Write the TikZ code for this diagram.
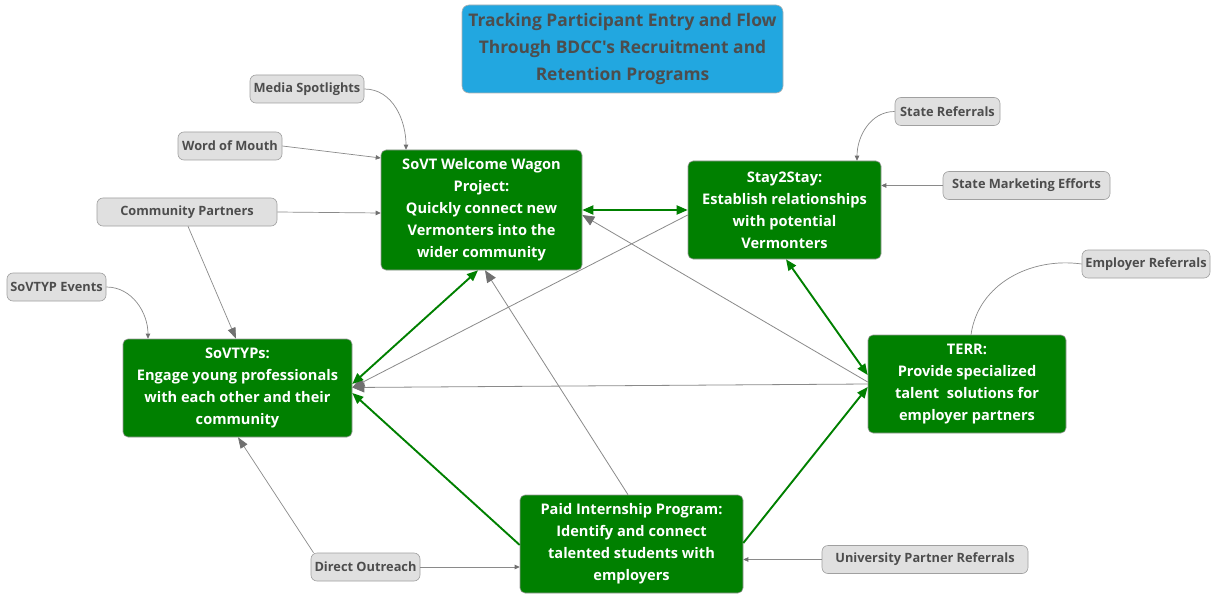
\documentclass[tikz,border=0pt]{standalone}
\usepackage{fontspec}
\setmainfont{Open Sans}[Ligatures=TeXOff]
\usetikzlibrary{arrows.meta}
\definecolor{boxgreen}{HTML}{008000}
\definecolor{titleblue}{HTML}{22A7E0}
\definecolor{srcfill}{HTML}{E0E0E0}
\definecolor{srcline}{HTML}{A0A0A0}
\definecolor{txtgray}{HTML}{4D4D4D}
\definecolor{lnk}{HTML}{8A8A8A}
\definecolor{tipgray}{HTML}{707070}
\tikzset{
  prog/.style={draw=gray!80, line width=0.6pt, fill=boxgreen, rounded corners=5pt,
    text=white, font=\fontsize{14.6}{22}\selectfont\bfseries, align=center, inner sep=0pt},
  src/.style={draw=srcline, line width=0.6pt, fill=srcfill, rounded corners=6pt,
    text=txtgray, font=\fontsize{12.8}{14}\selectfont\bfseries, align=center, inner sep=0pt,
    minimum height=28pt},
  titlebox/.style={draw=gray!60, line width=0.6pt, fill=titleblue, rounded corners=7pt,
    text=txtgray, font=\fontsize{17.4}{27}\selectfont\bfseries, align=center, inner sep=0pt},
  ext/.style={draw=lnk, line width=0.7pt, -{Triangle[length=5pt,width=4.5pt,color=tipgray]}},
  extbig/.style={draw=lnk, line width=0.7pt, -{Triangle[length=11pt,width=8pt,color=tipgray]}},
  extnone/.style={draw=lnk, line width=0.7pt},
  flowgray/.style={draw=lnk, line width=0.8pt, -{Triangle[length=12pt,width=10pt,color=tipgray]}},
  flowgreen/.style={draw=boxgreen, line width=1.9pt, -{Triangle[length=11pt,width=9pt]}},
  flowboth/.style={draw=boxgreen, line width=1.9pt, {Triangle[length=11pt,width=9pt]}-{Triangle[length=11pt,width=9pt]}},
}
\begin{document}
\begin{tikzpicture}[x=1pt,y=1pt]
\useasboundingbox (0,0) rectangle (1212,-596);
\fill[white] (0,0) rectangle (1212,-596);

% title
\node[titlebox, minimum width=321pt, minimum height=88pt] (title) at (622.5,-49)
  {Tracking Participant Entry and Flow\\Through BDCC's Recruitment and\\Retention Programs};

% programs
\node[prog, minimum width=201pt, minimum height=120pt] (ww) at (481.5,-210)
  {SoVT Welcome Wagon\\Project:\\Quickly connect new\\Vermonters into the\\wider community};
\node[prog, minimum width=193pt, minimum height=98pt] (s2s) at (784.5,-210)
  {Stay2Stay:\\Establish relationships\\with potential\\Vermonters};
\node[prog, minimum width=229pt, minimum height=98pt] (sov) at (237.5,-388)
  {SoVTYPs:\\Engage young professionals\\with each other and their\\community};
\node[prog, minimum width=198pt, minimum height=98pt] (terr) at (967,-384)
  {TERR:\\Provide specialized\\talent\ \ solutions for\\employer partners};
\node[prog, minimum width=223pt, minimum height=98pt] (pi) at (631.5,-544)
  {Paid Internship Program:\\Identify and connect\\talented students with\\employers};

% sources
\node[src, minimum width=114pt] (media) at (307,-89) {Media Spotlights};
\node[src, minimum width=104pt] (wom) at (230,-146) {Word of Mouth};
\node[src, minimum width=180pt] (comm) at (187,-212) {Community Partners};
\node[src, minimum width=99pt] (events) at (56.5,-287) {SoVTYP Events};
\node[src, minimum width=105pt] (stref) at (947.5,-111.5) {State Referrals};
\node[src, minimum width=167pt] (sme) at (1026.5,-185.5) {State Marketing Efforts};
\node[src, minimum width=128pt] (empref) at (1146,-264) {Employer Referrals};
\node[src, minimum width=109pt] (direct) at (365.5,-567) {Direct Outreach};
\node[src, minimum width=206pt] (upr) at (925,-559.5) {University Partner Referrals};

% source connectors
\draw[ext] (media.east) to[out=0,in=90] ([xshift=-75.5pt]ww.north);
\draw[ext] (wom.east) -- ([yshift=52pt]ww.west);
\draw[ext] (comm.east) -- ([yshift=-3pt]ww.west);
\draw[extbig] ([xshift=1pt]comm.south) -- ([xshift=-1.5pt]sov.north);
\draw[ext] (events.east) to[out=0,in=90] ([xshift=-89.5pt]sov.north);
\draw[ext] (stref.west) to[out=180,in=90] ([xshift=72.5pt]s2s.north);
\draw[ext] (sme.west) -- ([yshift=24.5pt]s2s.east);
\draw[extnone] (empref.west) to[out=172,in=82] ([xshift=4pt]terr.north);
\draw[ext] (direct.east) -- ([yshift=-23pt]pi.west);
\draw[extbig] ([xshift=-52pt]direct.north) -- ([xshift=0.5pt]sov.south);
\draw[ext] (upr.west) -- ([yshift=-15.5pt]pi.east);

% gray flows
\draw[flowgray] (terr.west) -- ([yshift=0.5pt]sov.east);
\draw[flowgray] ([yshift=2pt]terr.west) -- ([yshift=-5pt]ww.east);
\draw[flowgray] ([yshift=-5pt]s2s.west) -- ([yshift=0.5pt]sov.east);
\draw[flowgray] ([xshift=-3.5pt]pi.north) -- ([xshift=3.5pt]ww.south);

% green flows
\draw[flowboth] (ww.east) -- (s2s.west);
\draw[flowboth] ([xshift=-3.5pt]ww.south) -- ([yshift=4pt]sov.east);
\draw[flowboth] ([xshift=1.5pt]s2s.south) -- ([yshift=9pt]terr.west);
\draw[flowgreen] ([yshift=-1pt]pi.west) -- ([yshift=-5pt]sov.east);
\draw[flowgreen] ([yshift=1pt]pi.east) -- ([yshift=-3pt]terr.west);
\end{tikzpicture}
\end{document}
